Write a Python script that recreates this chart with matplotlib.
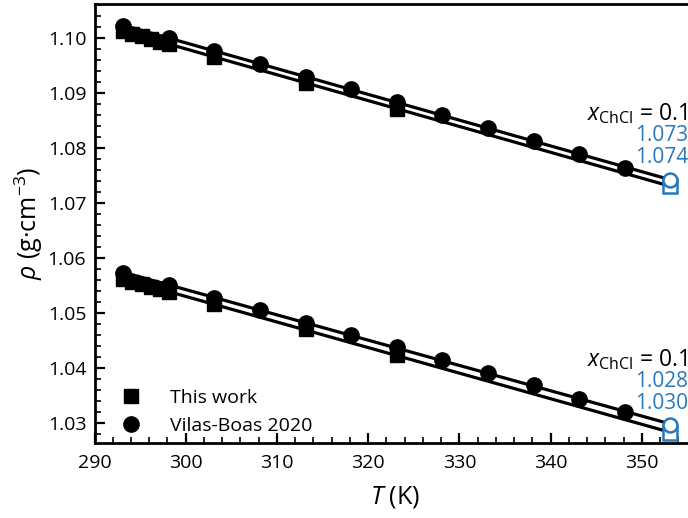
import matplotlib
matplotlib.use('Agg')
import matplotlib.pyplot as plt
import numpy as np
from matplotlib.ticker import MultipleLocator, FormatStrFormatter

plt.rcParams['font.family'] = ['Open Sans', 'DejaVu Sans']
plt.rcParams['mathtext.fontset'] = 'custom'
plt.rcParams['mathtext.rm'] = 'Open Sans'
plt.rcParams['mathtext.it'] = 'Open Sans:italic'

BLUE = '#2878bd'

# This work, measured densities (g/cm3)
T_this = [293.15, 294.15, 295.15, 296.15, 297.15, 298.15, 303.15, 313.15, 323.15]
rho_this_hi = [1.1013, 1.1008, 1.1004, 1.0999, 1.0994, 1.0990, 1.0966, 1.0919, 1.0872]
rho_this_lo = [1.0562, 1.0557, 1.0553, 1.0548, 1.0544, 1.0539, 1.0517, 1.0471, 1.0425]

# Vilas-Boas 2020
T_vb = [293.15, 298.15, 303.15, 308.15, 313.15, 318.15, 323.15,
        328.15, 333.15, 338.15, 343.15, 348.15]
rho_vb_hi = [1.1023, 1.1000, 1.0977, 1.0954, 1.0930, 1.0908, 1.0884,
             1.0861, 1.0837, 1.0813, 1.0789, 1.0765]
rho_vb_lo = [1.0573, 1.0551, 1.0528, 1.0506, 1.0483, 1.0461, 1.0438,
             1.0415, 1.0391, 1.0369, 1.0345, 1.0321]

# values at 353.15 K (open markers)
T_ext = 353.15
ext_this = [1.0731, 1.0282]
ext_vb = [1.0743, 1.0296]
ext_labels = [('1.073', '1.074'), ('1.028', '1.030')]
x_label = r'$x_{\mathrm{ChCl}}$ = 0.1'

fig = plt.figure(figsize=(6.88, 5.18), dpi=100)
ax = fig.add_axes([0.1374, 0.1442, 0.8749, 0.848])

for rho_t, rho_v, e_t, e_v, labs in zip([rho_this_hi, rho_this_lo],
                                         [rho_vb_hi, rho_vb_lo],
                                         ext_this, ext_vb, ext_labels):
    # linear fits through each data set, drawn out to 353.15 K
    tt = np.array([T_this[0], T_ext])
    for T, rho, e in ((T_this, rho_t, e_t), (T_vb, rho_v, e_v)):
        p = np.polyfit(list(T) + [T_ext], list(rho) + [e], 1)
        ax.plot(tt, np.polyval(p, tt), color='black', lw=2.3, zorder=2)
    ax.plot(T_this, rho_t, 's', color='black', ms=10.5, zorder=3)
    ax.plot(T_vb, rho_v, 'o', color='black', ms=11, zorder=4)
    ax.plot(T_ext, e_t, 's', mfc='white', mec=BLUE, mew=1.8, ms=10, zorder=3)
    ax.plot(T_ext, e_v, 'o', mfc='white', mec=BLUE, mew=1.8, ms=10, zorder=4)

    ax.annotate(x_label, (T_ext, e_v), xytext=(12.5, 47.5), textcoords='offset points',
                ha='right', va='center', fontsize=16.5, color='black')
    ax.annotate(labs[0], (T_ext, e_v), xytext=(12.5, 31.5), textcoords='offset points',
                ha='right', va='center', fontsize=15, color=BLUE)
    ax.annotate(labs[1], (T_ext, e_v), xytext=(12.5, 16), textcoords='offset points',
                ha='right', va='center', fontsize=15, color=BLUE)

# legend entries only
ax.plot([], [], 's', color='black', ms=10.5, label='This work')
ax.plot([], [], 'o', color='black', ms=11, label='Vilas-Boas 2020')
ax.legend(loc='lower left', bbox_to_anchor=(0.0, -0.02), frameon=False,
          fontsize=14, handletextpad=1.0, labelspacing=0.5)

ax.set_xlim(290, 356)
ax.set_ylim(1.02636, 1.10624)
ax.xaxis.set_major_locator(MultipleLocator(10))
ax.xaxis.set_minor_locator(MultipleLocator(2))
ax.yaxis.set_major_locator(MultipleLocator(0.01))
ax.yaxis.set_minor_locator(MultipleLocator(0.002))
ax.yaxis.set_major_formatter(FormatStrFormatter('%.2f'))

ax.tick_params(which='both', direction='in', top=False, right=False,
               width=1.6, labelsize=14)
ax.tick_params(axis='x', which='major', pad=8)
ax.tick_params(axis='y', which='major', pad=6)
ax.tick_params(which='major', length=7)
ax.tick_params(which='minor', length=4, width=1.2)
for s in ax.spines.values():
    s.set_linewidth(2.0)

ax.set_xlabel(r'$T$ (K)', fontsize=18, labelpad=8)
ax.set_ylabel(r'$\rho$ (g·cm$^{-3}$)', fontsize=18, labelpad=2)

fig.savefig('out.png', dpi=100)
